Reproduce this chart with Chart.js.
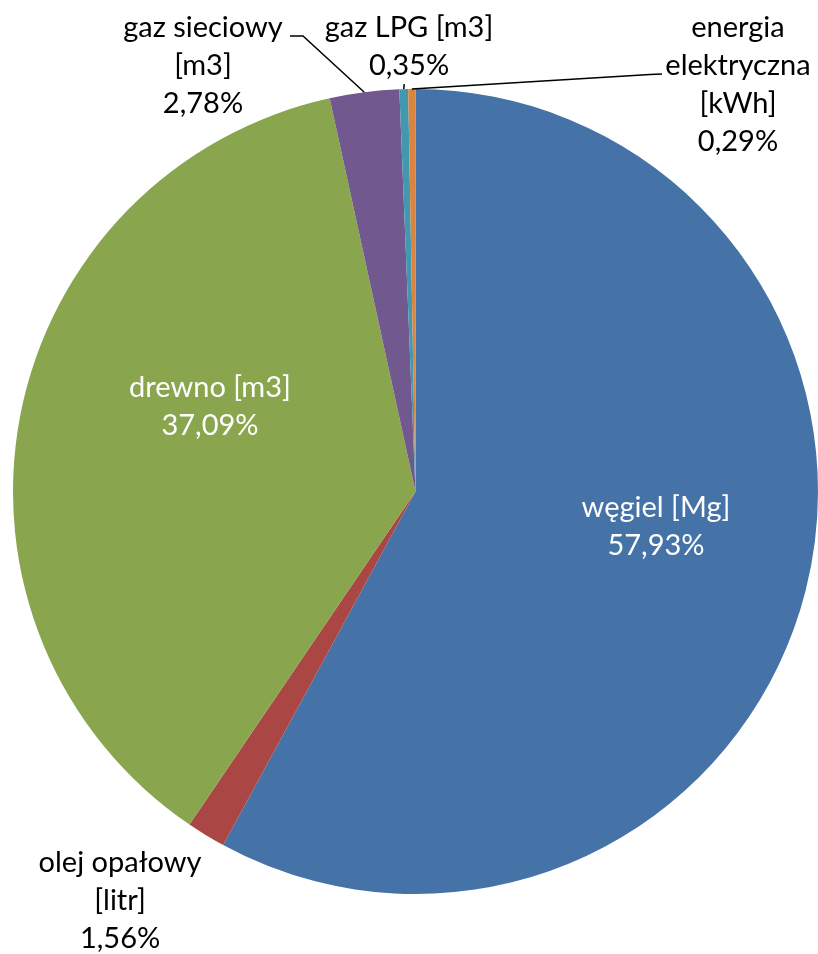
<!DOCTYPE html>
<html>
<head>
<meta charset="utf-8">
<script src="https://cdn.jsdelivr.net/npm/chart.js@4/dist/chart.umd.min.js"></script>
<style>
  html, body { margin: 0; padding: 0; background: #fff; }
  canvas { display: block; }
</style>
</head>
<body>
<canvas id="pie" width="818" height="954"></canvas>
<script>
// dane z wykresu (udział nośników energii)
const categories = ["węgiel [Mg]", "olej opałowy [litr]", "drewno [m3]", "gaz sieciowy [m3]", "gaz LPG [m3]", "energia elektryczna [kWh]"];
const shares = [57.93, 1.56, 37.09, 2.78, 0.35, 0.29];
const colors = ["#4572A7", "#AA4643", "#89A54E", "#71588F", "#4198AF", "#DB843D"];

// etykiety: linie tekstu, położenie linii bazowej pierwszego wiersza względem środka koła (w promieniach)
const labelLines = [
  ["węgiel [Mg]", "57,93%"],
  ["olej opałowy", "[litr]", "1,56%"],
  ["drewno [m3]", "37,09%"],
  ["gaz sieciowy", "[m3]", "2,78%"],
  ["gaz LPG [m3]", "0,35%"],
  ["energia", "elektryczna", "[kWh]", "0,29%"],
];
const labelPos = [
  { dx: 0.5975, dy: 0.0634, inside: true },
  { dx: -0.734, dy: 0.9453 },
  { dx: -0.5106, dy: -0.2348, inside: true },
  { dx: -0.528, dy: -1.1292 },
  { dx: -0.0161, dy: -1.1292 },
  { dx: 0.8012, dy: -1.1292 },
];
// łamanie linii odniesienia (w promieniach), null = bez linii
const leaderBend = [null, null, null,
  [[-0.2795, -1.1317], [-0.3118, -1.1317]],
  [[-0.028, -1.012]],
  [[0.5826, -1.036], [0.6124, -1.037]],
];

const FONT = "29px Lato, 'Open Sans', sans-serif";
const LINE_H = 38;

const pieLabels = {
  id: "pieLabels",
  afterDatasetsDraw(chart) {
    const ctx = chart.ctx;
    const arcs = chart.getDatasetMeta(0).data;
    ctx.save();
    arcs.forEach((arc, i) => {
      const { x, y, outerRadius: r, startAngle, endAngle } = arc.getProps(["x", "y", "outerRadius", "startAngle", "endAngle"], true);
      const mid = (startAngle + endAngle) / 2;
      const lp = labelPos[i];
      const cx = x + lp.dx * r, cy = y + lp.dy * r;

      if (leaderBend[i]) {
        ctx.strokeStyle = "#000";
        ctx.lineWidth = 1.5;
        ctx.beginPath();
        ctx.moveTo(x + Math.cos(mid) * r, y + Math.sin(mid) * r);
        leaderBend[i].forEach(p => ctx.lineTo(x + p[0] * r, y + p[1] * r));
        ctx.stroke();
      }

      ctx.font = FONT;
      ctx.fillStyle = lp.inside ? "#fff" : "#000";
      ctx.textAlign = "center";
      ctx.textBaseline = "alphabetic";
      labelLines[i].forEach((t, k) => ctx.fillText(t, cx, cy + k * LINE_H));
    });
    ctx.restore();
  },
};

new Chart(document.getElementById("pie"), {
  type: "pie",
  data: {
    labels: categories,
    datasets: [{
      data: shares,
      backgroundColor: colors,
      borderWidth: 0,
    }],
  },
  options: {
    responsive: false,
    animation: false,
    layout: { padding: { left: 13, right: 0, top: 88, bottom: 59 } },
    plugins: {
      legend: { display: false },
      tooltip: { enabled: false },
    },
  },
  plugins: [pieLabels],
});
</script>
</body>
</html>
